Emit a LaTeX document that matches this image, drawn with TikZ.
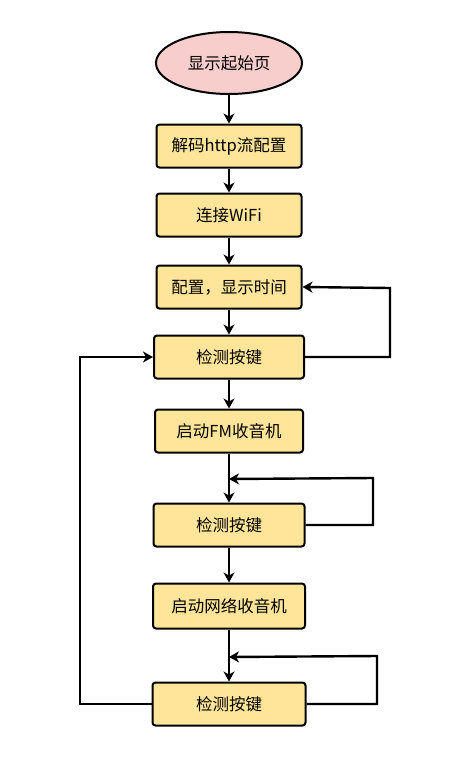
\documentclass[tikz,border=0pt]{standalone}
\usepackage{fontspec}
\setmainfont{Noto Sans CJK SC}
\usetikzlibrary{arrows.meta,shapes.geometric}
\definecolor{cstart}{HTML}{F8CECC}
\definecolor{cstep}{HTML}{FFE599}
\tikzset{
  stepbox/.style={rectangle, rounded corners=3pt, draw=black, fill=cstep,
              line width=2pt, minimum width=145pt, minimum height=43pt,
              font=\fontsize{16.5}{19}\selectfont, inner sep=2pt},
  startnode/.style={ellipse, draw=black, fill=cstart, line width=2pt,
              minimum width=146pt, minimum height=62pt,
              font=\fontsize{16.5}{19}\selectfont},
  fl/.style={-{Stealth[length=10pt,width=11pt,inset=3pt]}, draw=black, line width=1.3pt},
  flb/.style={-{Stealth[length=10pt,width=11pt,inset=3pt]}, draw=black, line width=2.4pt}
}
\begin{document}
\begin{tikzpicture}[x=1pt,y=-1pt]
\useasboundingbox (0,0) rectangle (474,761);

\node[startnode] (s0) at (229,63) {显示起始页};
\node[stepbox] (s1) at (229,146) {解码http流配置};
\node[stepbox] (s2) at (229,215) {连接WiFi};
\node[stepbox] (s3) at (229,287) {配置，显示时间};
\node[stepbox, minimum width=150pt] (s4) at (229,357) {检测按键};
\node[stepbox, minimum width=148pt] (s5) at (229,431) {启动FM收音机};
\node[stepbox, minimum width=151pt] (s6) at (229,525) {检测按键};
\node[stepbox, minimum width=152pt, minimum height=45pt] (s7) at (229,606) {启动网络收音机};
\node[stepbox, minimum width=153pt] (s8) at (229,704) {检测按键};

\coordinate (j1) at (s5.south |- 0,479);
\coordinate (j2) at (s7.south |- 0,657);

\draw[fl] (s0.south) -- (s1.north);
\draw[fl] (s1.south) -- (s2.north);
\draw[fl] (s2.south) -- (s3.north);
\draw[fl] (s3.south) -- (s4.north);
\draw[fl] (s4.south) -- (s5.north);
\draw[fl] (s5.south) -- (s6.north);
\draw[fl] (s6.south) -- (s7.north);
\draw[fl] (s7.south) -- (s8.north);

\draw[flb] (s4.east) -- (390,357) -- (390,288) -- (s3.east);
\draw[flb] (s6.east) -- (373,525) -- (373,478) -- (j1);
\draw[flb] (s8.east) -- (377,704) -- (377,656) -- (j2);
\draw[flb] (s8.west) -- (80,704) -- (80,357) -- (s4.west);

\end{tikzpicture}
\end{document}
